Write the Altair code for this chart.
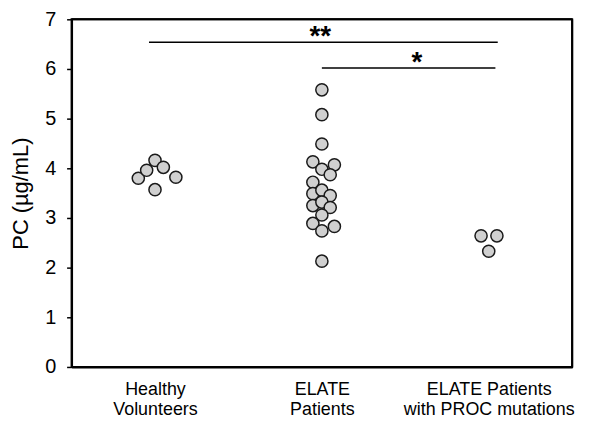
import altair as alt
import pandas as pd

# Categories (group labels, multi-line)
groups = ["Healthy\nVolunteers", "ELATE\nPatients", "ELATE Patients\nwith PROC mutations"]

# PC values (µg/mL) per group
healthy_vals = [3.80, 3.96, 4.16, 4.02, 3.82, 3.57]
elate_vals = [5.58, 5.08, 4.49, 4.13, 3.98, 4.07, 3.87, 3.72, 3.49, 3.56, 3.45,
              3.25, 3.32, 3.21, 3.06, 2.89, 2.83, 2.74, 2.13]
proc_vals = [2.64, 2.64, 2.33]

# horizontal scatter offsets (in group units) to avoid overlap
healthy_jit = [-0.10, -0.05, 0.0, 0.05, 0.125, 0.0]
elate_jit = [0.0, 0.0, 0.0, -0.054, 0.0, 0.075, 0.05, -0.054, -0.054, 0.0, 0.05,
             -0.054, 0.0, 0.05, 0.0, -0.054, 0.075, 0.0, 0.0]
proc_jit = [-0.046, 0.049, 0.0]

# significance brackets
sig_x1 = [0.964, 2.0]
sig_x2 = [3.054, 3.04]
sig_y = [6.54, 6.02]
sig_label = ["**", "*"]
sig_text_x = [1.99, 2.57]

rows = []
for gi, (vals, jit) in enumerate([(healthy_vals, healthy_jit),
                                  (elate_vals, elate_jit),
                                  (proc_vals, proc_jit)]):
    for v, j in zip(vals, jit):
        rows.append({"group": groups[gi], "gidx": gi + 1, "jit": j, "pc": v})
df = pd.DataFrame(rows)

sig_df = pd.DataFrame({"x1": sig_x1, "x2": sig_x2, "y": sig_y,
                       "label": sig_label, "tx": sig_text_x})

label_expr = " : ".join(
    f"datum.value == {i + 1} ? {str(g.split(chr(10)))}" for i, g in enumerate(groups)
) + " : ''"

FONT = "Liberation Sans"
W, H = 504, 350

xscale = alt.Scale(domain=[0.5, 3.5], nice=False, zero=False)
yscale = alt.Scale(domain=[0, 7], nice=False)

one = pd.DataFrame({"k": [0]})
frame_top = alt.Chart(one).mark_rule(color="black", strokeWidth=2).encode(
    x=alt.value(0), x2=alt.value(W), y=alt.value(0)
)
frame_right = alt.Chart(one).mark_rule(color="black", strokeWidth=2).encode(
    x=alt.value(W), y=alt.value(0), y2=alt.value(H)
)

points = alt.Chart(df).transform_calculate(
    xpos="datum.gidx + datum.jit"
).mark_point(
    shape="circle", filled=True, size=150, fill="#d0d0d0", stroke="#1a1a1a",
    strokeWidth=1.5, opacity=1
).encode(
    x=alt.X("xpos:Q", scale=xscale,
            axis=alt.Axis(values=[1, 2, 3], ticks=False, domain=True,
                          domainColor="black", domainWidth=2, grid=False,
                          labelExpr=label_expr, labelFontSize=18, labelLineHeight=20,
                          labelPadding=14, labelAngle=0, labelColor="black",
                          labelFont=FONT, title=None)),
    y=alt.Y("pc:Q", scale=yscale,
            axis=alt.Axis(values=list(range(0, 8)), grid=False, domain=True,
                          domainColor="black", domainWidth=2,
                          tickSize=5, tickWidth=1.5, tickColor="black",
                          labelFontSize=20, labelPadding=11, labelColor="black",
                          labelFont=FONT, title="PC (µg/mL)", titleFontSize=22,
                          titleFont=FONT, titleFontWeight="normal",
                          titleColor="black", titlePadding=12)),
)

rules = alt.Chart(sig_df).mark_rule(color="black", strokeWidth=1.5).encode(
    x=alt.X("x1:Q", scale=xscale), x2="x2:Q", y=alt.Y("y:Q", scale=yscale)
)

stars = alt.Chart(sig_df).mark_text(
    font=FONT, fontSize=28, fontWeight="bold", baseline="alphabetic", dy=3,
    color="black"
).encode(
    x=alt.X("tx:Q", scale=xscale), y=alt.Y("y:Q", scale=yscale), text="label:N"
)

chart = alt.layer(frame_top, frame_right, rules, points, stars).properties(
    width=W, height=H, background="white",
    autosize=alt.AutoSizeParams(type="none"),
    padding={"left": 64, "top": 10, "right": 25, "bottom": 50}
).configure_view(stroke="black", strokeWidth=2)

chart.save("out.html", embed_options={"renderer": "svg", "actions": False})
